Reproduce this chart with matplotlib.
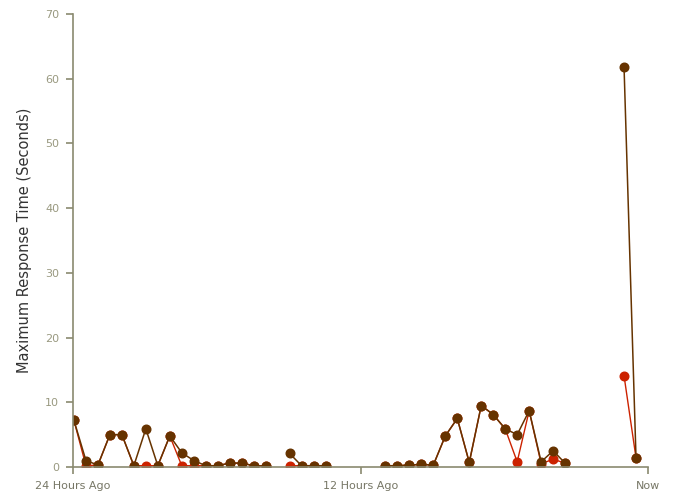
import numpy as np
import matplotlib
matplotlib.use("Agg")
import matplotlib.pyplot as plt

nan = np.nan

# half-hour slots, counted from 24 hours ago
hours = [0.04 + 0.5 * i for i in range(46)] + [23.0, 23.5]

worst = [7.2, 1.0, 0.3, 5.0, 5.0, 0.2, 5.9, 0.2, 4.8, 2.2, 1.0, 0.2, 0.2, 0.6, 0.6, 0.2,
         0.15, nan, 2.1, 0.2, 0.2, 0.2, nan, nan, nan, nan, 0.2, 0.2, 0.3, 0.4, 0.3, 4.8,
         7.5, 0.7, 9.5, 8.1, 5.9, 5.0, 8.7, 0.8, 2.5, 0.6, nan, nan, nan, nan, 61.8, 1.4]
other = [7.2, 0.2, 0.3, 5.0, 5.0, 0.2, 0.2, 0.2, 4.8, 0.2, 0.2, 0.2, 0.2, 0.6, 0.6, 0.2,
         0.15, nan, 0.2, 0.2, 0.2, 0.2, nan, nan, nan, nan, 0.2, 0.2, 0.3, 0.4, 0.3, 4.8,
         7.5, 0.7, 9.5, 8.1, 5.9, 0.8, 8.7, 0.5, 1.2, 0.6, nan, nan, nan, nan, 14.1, 1.4]

x_ticks = [0, 12, 24]
x_labels = ["24 Hours Ago", "12 Hours Ago", "Now"]
y_ticks = [0, 10, 20, 30, 40, 50, 60, 70]

axis_col = "#8a8a70"
dark = "#663300"
red = "#cc2200"

fig = plt.figure(figsize=(6.76, 5.01), dpi=100)
ax = fig.add_axes([73 / 676, 34 / 501, 575 / 676, 453 / 501])

ax.plot(hours, other, color=red, lw=1.0, marker="o", ms=6.2, mec=red, mfc=red)
ax.plot(hours, worst, color=dark, lw=1.1, marker="o", ms=6.2, mec=dark, mfc=dark)

ax.set_xlim(0, 24)
ax.set_ylim(0, 70)
ax.set_xticks(x_ticks)
ax.set_xticklabels(x_labels)
ax.set_yticks(y_ticks)

for s in ["top", "right"]:
    ax.spines[s].set_visible(False)
for s in ["left", "bottom"]:
    ax.spines[s].set_color(axis_col)
    ax.spines[s].set_linewidth(1.2)
ax.tick_params(colors=axis_col, labelsize=8, length=5, width=1.2, pad=5)
ax.tick_params(axis="x", labelcolor="#777766")
ax.tick_params(axis="y", labelcolor="#999980")

ax.set_ylabel("Maximum Response Time (Seconds)", fontsize=10.5, color="#333333", labelpad=9)

fig.savefig("out.png", dpi=100)
